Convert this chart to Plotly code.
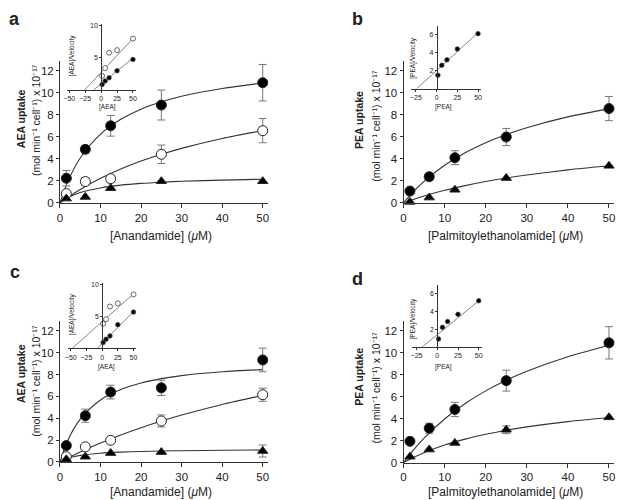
import plotly.graph_objects as go

# ---------------- data ----------------
conc = [1.56, 6.25, 12.5, 25, 50]
curve_x = [0, 2, 5, 10, 15, 20, 25, 30, 40, 50]

# panel a (AEA)
a37 = [2.24, 4.87, 7.01, 8.9, 10.93]
a37_err = [0.7, 0.35, 0.94, 1.36, 1.66]
aAM = [0.84, 1.94, 2.2, 4.42, 6.57]
aAM_err = [0.2, 0.35, 0.3, 0.84, 1.1]
a4 = [0.39, 0.54, 1.34, 1.97, 1.97]
a37_curve = [0, 2.0, 4.08, 6.25, 7.60, 8.52, 9.19, 9.70, 10.41, 10.90]
aAM_curve = [0, 0.52, 1.22, 2.23, 3.08, 3.80, 4.42, 4.96, 5.86, 6.57]
a4_curve = [0, 0.48, 0.94, 1.36, 1.61, 1.77, 1.88, 1.96, 2.07, 2.15]

# panel b (PEA)
b37 = [1.07, 2.38, 4.11, 5.99, 8.58]
b37_err = [0.1, 0.15, 0.63, 0.78, 1.1]
b4 = [0.09, 0.48, 1.19, 2.26, 3.37]
b37_curve = [0, 0.86, 1.95, 3.42, 4.56, 5.47, 6.22, 6.84, 7.82, 8.55]
b4_curve = [0, 0.26, 0.62, 1.14, 1.57, 1.94, 2.26, 2.54, 3.0, 3.37]

# panel c (AEA)
c37 = [1.5, 4.23, 6.39, 6.78, 9.33]
c37_err = [0.15, 0.6, 0.63, 0.7, 1.08]
cAM = [0.48, 1.38, 1.98, 3.75, 6.15]
cAM_err = [0.1, 0.15, 0.15, 0.55, 0.6]
c4 = [0.24, 0.48, 0.81, 0.9, 1.0]
c4_err = [0, 0, 0, 0, 0.55]
c37_curve = [0, 2.04, 3.92, 5.67, 6.62, 7.22, 7.62, 7.9, 8.25, 8.45]
cAM_curve = [0, 0.38, 0.92, 1.73, 2.47, 3.13, 3.74, 4.29, 5.26, 6.08]
c4_curve = [0, 0.34, 0.6, 0.8, 0.9, 0.96, 1.0, 1.03, 1.07, 1.09]

# panel d (PEA)
d37 = [1.94, 3.13, 4.84, 7.46, 10.9]
d37_err = [0.15, 0.45, 0.65, 0.95, 1.47]
d4 = [0.54, 1.19, 1.79, 2.99, 4.12]
d4_err = [0, 0, 0, 0.35, 0]
d37_curve = [0, 0.96, 2.23, 3.97, 5.38, 6.53, 7.5, 8.32, 9.64, 10.65]
d4_curve = [0, 0.4, 0.91, 1.6, 2.14, 2.58, 2.95, 3.25, 3.73, 4.1]

# insets ([S]/velocity vs [S])
ia_filled = [0.86, 1.4, 1.9, 3.0, 4.75]
ia_open = [2.2, 3.4, 5.8, 6.2, 8.0]
ia_filled_fit_x, ia_filled_fit_y = [-12, 50], [0, 4.95]
ia_open_fit_x, ia_open_fit_y = [-26, 50], [0, 8.0]

ic_filled = [0.94, 1.46, 1.98, 3.75, 5.73]
ic_open = [3.9, 4.6, 6.6, 7.1, 8.5]
ic_filled_fit_x, ic_filled_fit_y = [-8, 50], [0, 5.8]
ic_open_fit_x, ic_open_fit_y = [-48, 50], [0, 8.6]

ib_filled = [1.5, 2.6, 3.2, 4.4, 6.1]
ib_fit_x, ib_fit_y = [-24, 50], [0, 6.2]

id_filled = [0.89, 2.2, 2.85, 3.67, 5.2]
id_fit_x, id_fit_y = [-18, 51], [0, 5.26]

main_xticks = [0, 10, 20, 30, 40, 50]
main_yticks = [0, 2, 4, 6, 8, 10, 12]
aea_inset_xticks = [-50, -25, 0, 25, 50]
pea_inset_xticks = [-25, 0, 25, 50]
aea_inset_yticks = [5, 10]
pea_inset_yticks = [2, 4, 6]

# ---------------- helpers ----------------
W, H = 640, 500
FONT = "Liberation Sans, Arial, sans-serif"
INK = "#222222"
LINE = "#333333"
ERR = "#777777"


def fx(px):
    return px / W


def fy(py):
    return 1 - py / H


fig = go.Figure()


def curve(xs, ys, xa, ya):
    fig.add_trace(go.Scatter(x=xs, y=ys, mode="lines", xaxis=xa, yaxis=ya,
                             line=dict(color=LINE, width=1.1, shape="spline", smoothing=0.8),
                             showlegend=False, hoverinfo="skip"))


def points(xs, ys, err, xa, ya, symbol, open_=False, size=10):
    ed = None
    if err is not None:
        ed = dict(type="data", array=err, visible=True, color=ERR, thickness=1, width=4)
    fig.add_trace(go.Scatter(x=xs, y=ys, mode="markers", xaxis=xa, yaxis=ya,
                             error_y=ed,
                             marker=dict(symbol=symbol, size=size,
                                         color="white" if open_ else "black",
                                         line=dict(color="#222222", width=1)),
                             showlegend=False, cliponaxis=False))


def fitline(xs, ys, xa, ya):
    fig.add_trace(go.Scatter(x=xs, y=ys, mode="lines", xaxis=xa, yaxis=ya,
                             line=dict(color="#666666", width=0.8),
                             showlegend=False, hoverinfo="skip"))


def ipoints(xs, ys, xa, ya, open_=False):
    fig.add_trace(go.Scatter(x=xs, y=ys, mode="markers", xaxis=xa, yaxis=ya,
                             marker=dict(symbol="circle", size=5 if open_ else 4.5,
                                         color="white" if open_ else "black",
                                         line=dict(color="#444444", width=0.8)),
                             showlegend=False, cliponaxis=False))


# ---------------- traces ----------------
# panel a
curve(curve_x, a37_curve, "x", "y")
curve(curve_x, aAM_curve, "x", "y")
curve(curve_x, a4_curve, "x", "y")
points(conc, a37, a37_err, "x", "y", "circle")
points(conc, aAM, aAM_err, "x", "y", "circle", open_=True)
points(conc, a4, None, "x", "y", "triangle-up", size=9)

# panel b
curve(curve_x, b37_curve, "x2", "y2")
curve(curve_x, b4_curve, "x2", "y2")
points(conc, b37, b37_err, "x2", "y2", "circle")
points(conc, b4, None, "x2", "y2", "triangle-up", size=9)

# panel c
curve(curve_x, c37_curve, "x3", "y3")
curve(curve_x, cAM_curve, "x3", "y3")
curve(curve_x, c4_curve, "x3", "y3")
points(conc, c37, c37_err, "x3", "y3", "circle")
points(conc, cAM, cAM_err, "x3", "y3", "circle", open_=True)
points(conc, c4, c4_err, "x3", "y3", "triangle-up", size=9)

# panel d
curve(curve_x, d37_curve, "x4", "y4")
curve(curve_x, d4_curve, "x4", "y4")
points(conc, d37, d37_err, "x4", "y4", "circle")
points(conc, d4, d4_err, "x4", "y4", "triangle-up", size=9)

# insets
fitline(ia_open_fit_x, ia_open_fit_y, "x5", "y5")
fitline(ia_filled_fit_x, ia_filled_fit_y, "x5", "y5")
ipoints(conc, ia_open, "x5", "y5", open_=True)
ipoints(conc, ia_filled, "x5", "y5")

fitline(ib_fit_x, ib_fit_y, "x6", "y6")
ipoints(conc, ib_filled, "x6", "y6")

fitline(ic_open_fit_x, ic_open_fit_y, "x7", "y7")
fitline(ic_filled_fit_x, ic_filled_fit_y, "x7", "y7")
ipoints(conc, ic_open, "x7", "y7", open_=True)
ipoints(conc, ic_filled, "x7", "y7")

fitline(id_fit_x, id_fit_y, "x8", "y8")
ipoints(conc, id_filled, "x8", "y8")

# ---------------- axes ----------------
def main_x(dom_px, anchor):
    return dict(domain=[fx(dom_px[0]), fx(dom_px[1])], range=[0, 51.2], anchor=anchor,
                tickvals=main_xticks, ticks="outside", ticklen=4, tickwidth=1, tickcolor=LINE,
                showline=True, linecolor=LINE, linewidth=1, showgrid=False, zeroline=False,
                tickfont=dict(family=FONT, size=11.5, color=INK), fixedrange=True)


def main_y(dom_py, anchor):
    # dom_py = [bottom_px, top_px]
    return dict(domain=[fy(dom_py[0]), fy(dom_py[1])], range=[0, 12.9], anchor=anchor,
                tickvals=main_yticks, ticks="outside", ticklen=3, tickwidth=1, tickcolor=LINE,
                showline=True, linecolor=LINE, linewidth=1, showgrid=False, zeroline=False,
                tickfont=dict(family=FONT, size=11.5, color=INK), fixedrange=True)


def inset_x(dom_px, rng, ticks, anchor):
    return dict(domain=[fx(dom_px[0]), fx(dom_px[1])], range=rng, anchor=anchor,
                tickvals=ticks, ticks="outside", ticklen=2, tickwidth=0.8, tickcolor=LINE,
                showline=True, linecolor=LINE, linewidth=0.8, showgrid=False, zeroline=False,
                tickfont=dict(family=FONT, size=7, color=INK), fixedrange=True)


def inset_y(dom_py, rng, ticks, pos_px):
    return dict(domain=[fy(dom_py[0]), fy(dom_py[1])], range=rng, anchor="free",
                position=fx(pos_px),
                tickvals=ticks, ticks="outside", ticklen=2, tickwidth=0.8, tickcolor=LINE,
                showline=True, linecolor=LINE, linewidth=0.8, showgrid=False, zeroline=False,
                tickfont=dict(family=FONT, size=7, color=INK), fixedrange=True)


layout = dict(
    width=W, height=H, margin=dict(l=0, r=0, t=0, b=0),
    paper_bgcolor="white", plot_bgcolor="rgba(0,0,0,0)", showlegend=False,
    xaxis=main_x([49.3, 258.2], "y"), yaxis=main_y([196, 51.9], "x"),
    xaxis2=main_x([395, 606.7], "y2"), yaxis2=main_y([196, 51.9], "x2"),
    xaxis3=main_x([49.3, 258.2], "y3"), yaxis3=main_y([459.3, 316], "x3"),
    xaxis4=main_x([395, 606.7], "y4"), yaxis4=main_y([460, 315.9], "x4"),
    xaxis5=inset_x([56.1, 125.3], [-54, 54], aea_inset_xticks, "y5"),
    yaxis5=inset_y([81.3, 14], [0, 10.3], aea_inset_yticks, 90.7),
    xaxis6=inset_x([402.4, 473.3], [-31, 54], pea_inset_xticks, "y6"),
    yaxis6=inset_y([80, 15.8], [0, 7], pea_inset_yticks, 428.3),
    xaxis7=inset_x([57.6, 125.8], [-54, 54], aea_inset_xticks, "y7"),
    yaxis7=inset_y([344, 277.4], [0, 10.3], aea_inset_yticks, 91.7),
    xaxis8=inset_x([403.1, 474], [-31, 54], pea_inset_xticks, "y8"),
    yaxis8=inset_y([342.3, 279.3], [0, 7], pea_inset_yticks, 429),
)
fig.update_layout(**layout)

# ---------------- annotations ----------------
ann = []


def text(px, py, s, size, bold=False, angle=0, xanchor="center"):
    ann.append(dict(x=fx(px), y=fy(py), xref="paper", yref="paper", text=s, showarrow=False,
                    textangle=angle, xanchor=xanchor, yanchor="middle",
                    font=dict(family=FONT, size=size, color=INK,
                              weight="bold" if bold else "normal")))


def label(xa, ya, xv, yv, s):
    ann.append(dict(x=xv, y=yv, xref=xa, yref=ya, text=s, showarrow=False,
                    xanchor="left", yanchor="middle",
                    font=dict(family=FONT, size=12.5, color="#111111", weight="bold")))


# panel letters
text(4, 9, "a", 18, bold=True)
text(349, 9, "b", 18, bold=True)
text(4, 266, "c", 18, bold=True)
text(349, 273, "d", 18, bold=True)

unit = "(mol min⁻¹ cell⁻¹) x 10⁻¹⁷"
# y titles
text(10, 110, "AEA uptake", 10.5, bold=True, angle=-90)
text(25, 112, unit, 10.5, angle=-90)
text(350, 112, "PEA uptake", 10.5, bold=True, angle=-90)
text(367, 118, unit, 10.5, angle=-90)
text(10, 369, "AEA uptake", 10.5, bold=True, angle=-90)
text(25, 377, unit, 10.5, angle=-90)
text(350, 373, "PEA uptake", 10.5, bold=True, angle=-90)
text(367, 384, unit, 10.5, angle=-90)

# x titles
text(151, 230, "[Anandamide] (<i>μ</i>M)", 12)
text(498, 230, "[Palmitoylethanolamide] (<i>μ</i>M)", 12)
text(151, 490, "[Anandamide] (<i>μ</i>M)", 12)
text(498, 490, "[Palmitoylethanolamide] (<i>μ</i>M)", 12)

# inset titles
text(61.5, 46, "[AEA]/Velocity", 6.5, angle=-90)
text(97, 99, "[AEA]", 6.5)
text(405, 48, "[PEA]/Velocity", 6.5, angle=-90)
text(435, 99, "[PEA]", 6.5)
text(61.5, 309, "[AEA]/Velocity", 6.5, angle=-90)
text(96, 363, "[AEA]", 6.5)
text(405, 313, "[PEA]/Velocity", 6.5, angle=-90)
text(435, 363, "[PEA]", 6.5)

# series labels
label("x", "y", 52.8, a37[-1], "37°C")
label("x", "y", 52.8, aAM[-1], "AM404")
label("x", "y", 52.8, a4[-1], "4°C")
label("x2", "y2", 52.2, b37[-1], "37°C")
label("x2", "y2", 52.2, b4[-1], "4°C")
label("x3", "y3", 52.8, c37[-1], "37°C")
label("x3", "y3", 52.8, cAM[-1], "AM404")
label("x3", "y3", 52.8, c4[-1], "4°C")
label("x4", "y4", 52.2, d37[-1], "37°C")
label("x4", "y4", 52.2, d4[-1], "4°C")

fig.update_layout(annotations=ann)
fig.write_html("out.html")
